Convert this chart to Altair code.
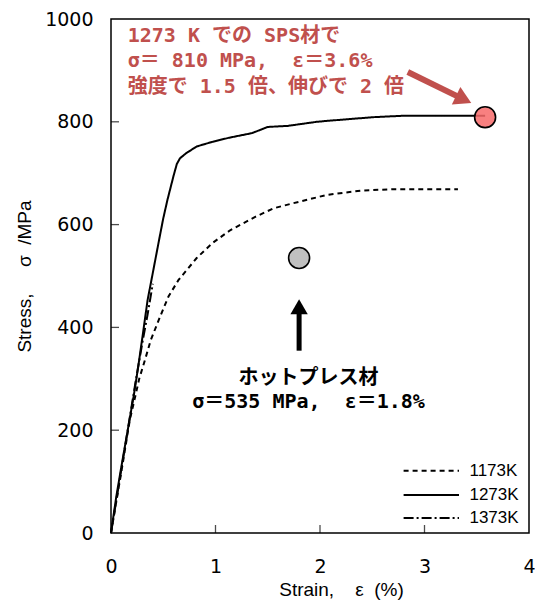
import altair as alt
import pandas as pd

# ---------------- data ----------------
strain_1273 = [0, 0.05, 0.10, 0.16, 0.22, 0.26, 0.30, 0.35, 0.40, 0.46, 0.50, 0.54, 0.60,
               0.63, 0.66, 0.72, 0.82, 0.97, 1.13, 1.35, 1.50, 1.69, 1.97, 2.08, 2.51, 2.82,
               3.20, 3.58]
stress_1273 = [0, 70, 130, 200, 270, 323, 380, 453, 506, 570, 612, 648, 696,
               718, 729, 739, 752, 761, 769, 778, 790, 792, 800, 802, 809, 812,
               812, 812]

strain_1173 = [0, 0.10, 0.18, 0.22, 0.27, 0.30, 0.33, 0.38, 0.47, 0.55, 0.645, 0.82,
               0.97, 1.14, 1.38, 1.56, 1.81, 2.07, 2.39, 2.70, 3.32]
stress_1173 = [0, 120, 220, 255, 300, 320, 340, 375, 421, 460, 492, 535,
               564, 589, 615, 632, 645, 658, 666, 669, 669]

strain_1373 = [0, 0.08, 0.16, 0.24, 0.30, 0.35, 0.40]
stress_1373 = [0, 100, 200, 300, 370, 425, 485]

series_names = ["1173K", "1273K", "1373K"]

sps_point = {"x": 3.58, "y": 809}
hp_point = {"x": 1.80, "y": 535}

NB = "\u00a0"
red_lines = ["1273 K での SPS材で",
             "σ＝" + NB + "810 MPa," + NB * 2 + "ε＝3.6%",
             "強度で 1.5 倍、伸びで 2 倍"]
black_lines = ["ホットプレス材", "σ＝535 MPa," + NB * 2 + "ε＝1.8%"]

x_ticks = [0, 1, 2, 3, 4]
y_ticks = [0, 200, 400, 600, 800, 1000]

x_title = "Strain," + NB * 4 + "ε" + NB * 2 + "(%)"
y_title = "Stress," + NB * 5 + "σ" + NB * 2 + "/MPa"

# ---------------- tables ----------------
rows = []
for name, xs_, ys_ in [("1273K", strain_1273, stress_1273),
                       ("1173K", strain_1173, stress_1173),
                       ("1373K", strain_1373, stress_1373)]:
    for i, (a, b) in enumerate(zip(xs_, ys_)):
        rows.append({"series": name, "x": a, "y": b, "idx": i})
curves_df = pd.DataFrame(rows)

RED = "#c0504d"
DASHES = [[5, 4], [1, 0], [10, 3, 2, 3]]
ANNOT_FONT = "DejaVu Sans Mono, Noto Sans CJK JP"
W, H = 418, 514

xs = alt.Scale(domain=[0, 4], nice=False, zero=False)
ys = alt.Scale(domain=[0, 1000], nice=False)

x_axis = alt.Axis(values=x_ticks, format="d", labelFont="DejaVu Sans", labelFontSize=19,
                  labelColor="black", labelPadding=24, labelFlush=False,
                  domain=False, ticks=False, tickSize=0, grid=False,
                  titleFont="Liberation Sans", titleFontSize=19, titleFontWeight="normal",
                  titleColor="black", titleX=230, titleY=56, titleBaseline="middle",
                  titleAlign="center")
y_axis = alt.Axis(values=y_ticks, format="d", labelFont="DejaVu Sans", labelFontSize=19,
                  labelColor="black", labelPadding=18, labelFlush=False,
                  domain=False, ticks=False, tickSize=0, grid=False,
                  titleFont="Liberation Sans", titleFontSize=19, titleFontWeight="normal",
                  titleColor="black", titleX=-87, titleY=257, titleBaseline="middle",
                  titleAlign="center", titleAngle=-90)

X = alt.X("x:Q", scale=xs, axis=x_axis, title=x_title)
Y = alt.Y("y:Q", scale=ys, axis=y_axis, title=y_title)
DASH = alt.StrokeDash("series:N", scale=alt.Scale(domain=series_names, range=DASHES), legend=None)

curves = alt.Chart(curves_df).mark_line(color="black", strokeWidth=2).encode(
    x=X, y=Y, strokeDash=DASH, order="idx:Q")

# inward ticks
xt = alt.Chart(pd.DataFrame({"x": x_ticks[1:-1], "y": [0] * 3})).mark_tick(
    orient="vertical", size=8, thickness=1.3, yOffset=-4, color="black").encode(x=X, y=Y)
yt = alt.Chart(pd.DataFrame({"x": [0] * 4, "y": y_ticks[1:-1]})).mark_tick(
    orient="horizontal", size=8, thickness=1.3, xOffset=4, color="black").encode(x=X, y=Y)

# manual legend (inside plot, lower right)
leg_y = [121, 74, 29]
leg_df = pd.DataFrame({"series": series_names, "x": [2.80] * 3, "x2": [3.33] * 3, "y": leg_y,
                       "lx": [3.43] * 3})
leg_lines = alt.Chart(leg_df).mark_rule(color="black", strokeWidth=2).encode(
    x=X, x2="x2:Q", y=Y, strokeDash=DASH)
leg_text = alt.Chart(leg_df).mark_text(align="left", baseline="middle", font="Liberation Sans",
                                       fontSize=17, color="black").encode(
    x=alt.X("lx:Q", scale=xs, axis=x_axis, title=x_title), y=Y, text="series:N")

# highlighted points
pts = alt.Chart(pd.DataFrame({"x": [sps_point["x"]], "y": [sps_point["y"]]})).mark_point(
    shape="circle", size=440, filled=True, fill="#f76a6a", fillOpacity=0.85,
    stroke="black", strokeWidth=1.6, opacity=1).encode(x=X, y=Y)
pts2 = alt.Chart(pd.DataFrame({"x": [hp_point["x"]], "y": [hp_point["y"]]})).mark_point(
    shape="circle", size=440, filled=True, fill="#c0c0c0", fillOpacity=1,
    stroke="black", strokeWidth=1.6, opacity=1).encode(x=X, y=Y)

# arrows
red_shaft = alt.Chart(pd.DataFrame({"x": [2.84], "y": [897], "x2": [3.375], "y2": [843.6]})).mark_rule(
    color=RED, strokeWidth=6).encode(x=X, y=Y, x2="x2:Q", y2="y2:Q")
red_head = alt.Chart(pd.DataFrame({"x": [3.375], "y": [843.6]})).mark_point(
    shape="triangle-right", size=380, filled=True, color=RED, opacity=1, angle=26).encode(x=X, y=Y)
blk_shaft = alt.Chart(pd.DataFrame({"x": [1.8], "y": [354.7], "y2": [440]})).mark_rule(
    color="black", strokeWidth=5).encode(x=X, y=Y, y2="y2:Q")
blk_head = alt.Chart(pd.DataFrame({"x": [1.8], "y": [440.3]})).mark_point(
    shape="triangle-up", size=300, filled=True, color="black", opacity=1).encode(x=X, y=Y)

# annotation text
red_df = pd.DataFrame({"x": [0.16] * 3, "y": [966, 918, 868], "t": red_lines})
red_text = alt.Chart(red_df).mark_text(align="left", baseline="middle", font=ANNOT_FONT,
                                       fontWeight="bold", fontSize=20, color=RED).encode(
    x=X, y=Y, text="t:N")
blk_df = pd.DataFrame({"x": [1.89] * 2, "y": [301, 255], "t": black_lines})
blk_text = alt.Chart(blk_df).mark_text(align="center", baseline="middle", font=ANNOT_FONT,
                                       fontWeight="bold", fontSize=20, color="black").encode(
    x=X, y=Y, text="t:N")

chart = alt.layer(curves, xt, yt, leg_lines, leg_text, red_shaft, red_head, pts, pts2,
                  blk_shaft, blk_head, red_text, blk_text).properties(
    width=W, height=H,
    autosize=alt.AutoSizeParams(type="none"),
    padding={"left": 103, "top": 11, "right": 6, "bottom": 68},
).configure_view(stroke="black", strokeWidth=1.5)

chart.save("out.html", embed_options={"renderer": "svg", "actions": False})
